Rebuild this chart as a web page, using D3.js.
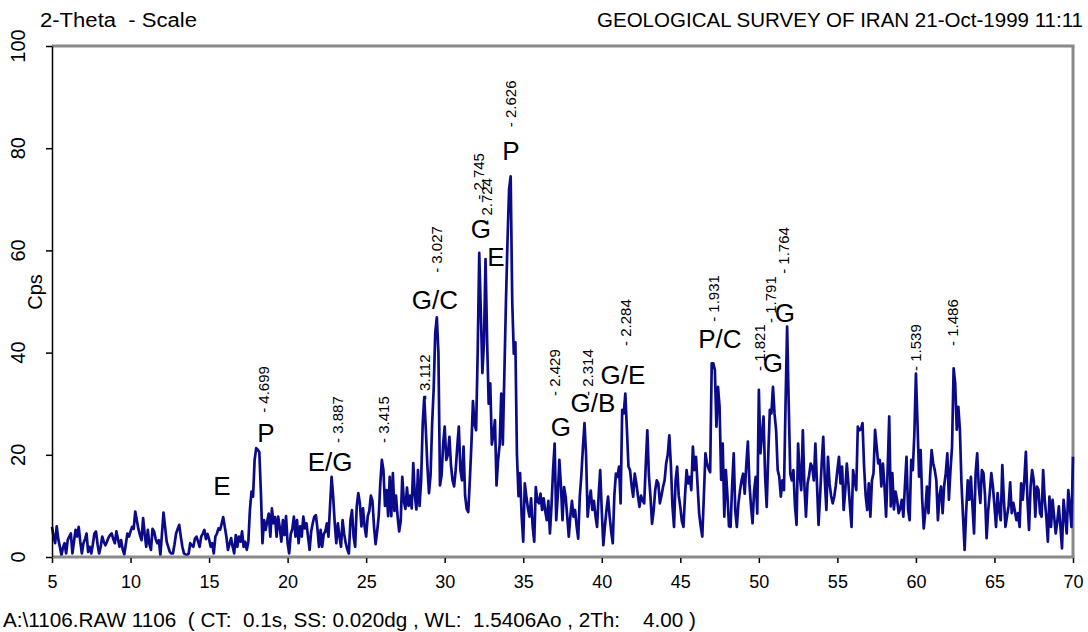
<!DOCTYPE html>
<html>
<head>
<meta charset="utf-8">
<script src="https://cdn.jsdelivr.net/npm/d3@7"></script>
<style>
  body { margin: 0; background: #fff; }
  svg { display: block; }
  text { font-family: Arial, "Liberation Sans", sans-serif; fill: #000; white-space: pre; }
</style>
</head>
<body>
<svg id="chart" width="1088" height="632"></svg>
<script>
// Scan grid: 2-theta start and step (degrees)
const scanStart = 5;
const scanStep = 0.1;

// Counts per second, one row per degree (5.0 ... 70.0)
const counts = [
  5.9, 4.0, 2.7, 6.0, 3.5, 2.0, 0.4, 1.8, 2.7, 0.7,
  3.3, 4.0, 4.6, 0.7, 3.0, 5.3, 4.0, 5.9, 3.0, 0.7,
  2.7, 3.5, 4.6, 1.0, 2.0, 0.7, 2.5, 4.6, 5.0, 2.5,
  0.7, 2.0, 4.0, 3.0, 2.3, 3.0, 3.8, 4.3, 4.6, 3.5,
  2.7, 5.0, 3.5, 2.0, 3.3, 1.5, 0.5, 2.5, 4.6, 4.0,
  5.0, 5.9, 5.5, 8.9, 7.2, 5.5, 4.3, 3.3, 7.6, 4.5,
  2.0, 5.3, 2.5, 1.4, 5.5, 5.0, 3.5, 2.7, 3.3, 0.4,
  4.5, 8.7, 5.9, 3.0, 2.0, 1.0, 0.7, 0.7, 2.5, 4.6,
  5.5, 6.3, 4.0, 2.0, 0.7, 0.5, 0.4, 0.7, 2.7, 2.3,
  2.0, 3.6, 4.0, 3.0, 2.0, 4.0, 4.6, 5.3, 3.5, 4.5,
  3.5, 2.0, 2.7, 0.7, 4.0, 4.6, 5.6, 5.3, 6.5, 7.8,
  5.9, 4.0, 1.4, 2.5, 3.7, 2.0, 0.7, 4.3, 2.0, 4.0,
  3.0, 5.0, 2.0, 3.0, 1.4, 3.0, 9.2, 12.8, 11.8, 19.0,
  21.3, 21.0, 20.5, 12.5, 2.7, 7.2, 5.3, 7.0, 8.5, 4.0,
  9.5, 6.6, 7.8, 4.0, 7.9, 5.8, 3.0, 7.2, 4.3, 8.0,
  2.7, 0.7, 4.5, 5.5, 7.9, 4.0, 7.2, 2.7, 6.0, 4.0,
  7.9, 5.6, 6.6, 4.0, 1.4, 5.0, 6.6, 7.9, 8.2, 5.5,
  2.0, 5.3, 2.0, 4.5, 5.0, 6.6, 4.0, 9.9, 15.7, 11.8,
  6.6, 2.7, 6.6, 4.0, 2.0, 7.2, 4.5, 2.7, 1.5, 0.7,
  7.2, 9.2, 4.0, 2.0, 9.9, 12.5, 10.5, 6.0, 9.5, 6.0,
  4.0, 8.0, 9.0, 12.0, 11.0, 6.0, 2.5, 5.0, 8.0, 14.4,
  19.0, 17.0, 10.0, 13.1, 8.0, 15.7, 8.0, 16.4, 9.0, 12.0,
  8.0, 5.0, 7.0, 15.7, 11.0, 9.4, 13.6, 10.0, 12.0, 9.5,
  18.4, 12.0, 9.3, 17.0, 10.0, 15.0, 26.0, 31.3, 24.8, 17.7,
  12.5, 16.0, 26.0, 33.0, 44.0, 46.9, 40.0, 14.0, 16.0, 22.0,
  25.5, 19.0, 20.0, 23.5, 18.0, 15.0, 13.8, 17.0, 21.6, 25.5,
  17.0, 15.0, 21.6, 12.0, 9.4, 8.8, 15.0, 22.0, 30.5, 26.0,
  24.8, 40.0, 59.5, 48.0, 36.0, 42.0, 58.3, 42.5, 30.0, 34.0,
  22.0, 24.0, 26.8, 14.0, 19.0, 22.0, 32.0, 22.0, 36.0, 50.0,
  62.0, 72.0, 74.5, 50.0, 39.8, 42.0, 20.0, 11.9, 16.4, 8.0,
  3.0, 14.4, 11.8, 9.5, 7.9, 11.5, 6.0, 3.0, 13.7, 11.0,
  10.5, 12.4, 9.2, 11.5, 9.0, 7.2, 11.0, 4.6, 10.0, 17.0,
  22.2, 7.2, 12.0, 19.0, 14.0, 7.2, 13.7, 11.8, 8.0, 4.0,
  8.0, 11.0, 7.9, 9.2, 6.0, 3.6, 11.8, 16.0, 21.5, 26.2,
  20.0, 7.9, 11.0, 13.0, 9.2, 11.0, 8.0, 5.9, 12.0, 17.0,
  9.0, 2.3, 6.0, 9.2, 11.8, 8.0, 5.0, 2.7, 12.0, 16.3,
  15.7, 17.7, 10.5, 28.8, 28.1, 32.0, 25.0, 17.7, 17.0, 14.0,
  11.8, 16.3, 14.4, 12.0, 9.8, 12.0, 11.0, 10.5, 18.0, 24.8,
  16.0, 11.8, 6.5, 9.0, 13.0, 15.0, 14.4, 10.5, 12.0, 13.7,
  15.0, 18.3, 20.0, 23.8, 18.0, 10.0, 5.9, 15.0, 17.7, 12.0,
  9.8, 7.0, 5.9, 12.0, 17.0, 14.4, 15.7, 13.1, 21.6, 17.0,
  19.6, 14.0, 8.5, 6.0, 4.0, 12.0, 20.3, 18.3, 17.3, 16.6,
  37.9, 37.9, 36.6, 25.5, 33.3, 29.4, 15.1, 22.2, 7.9, 17.0,
  12.0, 6.0, 5.9, 14.0, 20.3, 9.0, 5.9, 10.5, 13.0, 15.0,
  16.3, 12.4, 18.0, 22.6, 14.4, 10.0, 6.6, 13.0, 15.7, 8.5,
  32.7, 20.3, 24.0, 27.5, 15.7, 9.8, 20.0, 28.8, 28.1, 33.3,
  28.0, 24.8, 17.0, 15.7, 11.8, 15.0, 13.1, 30.0, 45.1, 30.1,
  16.3, 15.0, 17.0, 10.0, 6.3, 22.2, 16.0, 13.1, 24.8, 14.0,
  7.9, 14.4, 16.0, 18.3, 17.6, 15.0, 22.2, 14.4, 6.3, 12.0,
  18.3, 23.5, 15.0, 9.2, 19.6, 14.4, 12.0, 10.5, 11.8, 14.0,
  17.0, 19.6, 14.4, 17.7, 9.2, 13.0, 18.3, 14.4, 10.0, 5.9,
  17.0, 15.0, 13.1, 25.5, 24.8, 25.0, 26.2, 17.7, 12.0, 9.2,
  14.4, 7.9, 15.0, 16.4, 24.9, 21.6, 18.3, 19.0, 13.8, 18.3,
  13.8, 7.9, 17.0, 27.5, 9.9, 16.4, 9.3, 12.8, 11.2, 8.6,
  9.5, 11.2, 7.9, 14.0, 19.6, 9.3, 7.2, 19.0, 17.0, 24.0,
  35.9, 26.2, 15.7, 20.9, 11.2, 5.6, 9.0, 13.8, 8.6, 15.7,
  20.9, 18.3, 17.0, 15.0, 7.2, 12.0, 13.8, 8.6, 14.0, 16.4,
  20.3, 11.2, 17.0, 21.6, 36.9, 34.0, 24.9, 29.4, 24.9, 14.4,
  7.9, 1.4, 9.0, 15.0, 11.2, 15.7, 10.0, 4.6, 16.4, 20.3,
  13.8, 10.6, 17.0, 16.4, 12.0, 3.7, 9.0, 12.5, 16.4, 13.8,
  10.0, 5.9, 12.5, 9.0, 7.2, 18.0, 11.2, 5.9, 8.0, 10.0,
  14.6, 8.6, 10.6, 9.0, 7.2, 8.6, 5.9, 14.4, 11.2, 15.0,
  20.6, 11.2, 5.3, 13.8, 17.0, 15.0, 7.9, 13.8, 13.2, 8.6,
  7.9, 17.0, 11.2, 7.9, 3.0, 11.8, 5.9, 11.2, 7.9, 4.6,
  7.0, 9.9, 5.9, 1.7, 11.2, 7.9, 4.6, 13.1, 9.9, 5.9,
  19.6
];

// Axis ticks
const xTicks = [5, 10, 15, 20, 25, 30, 35, 40, 45, 50, 55, 60, 65, 70];
const yTicks = [0, 20, 40, 60, 80, 100];

// d-spacing markers (angstrom): text, 2-theta position, height of the marker (cps)
const dSpacings = ["4.699", "3.887", "3.415", "3.112", "3.027", "2.745", "2.724", "2.626",
                   "2.429", "2.314", "2.284", "1.931", "1.821", "1.791", "1.764", "1.539", "1.486"];
const dAngles   = [18.49, 23.20, 26.13, 28.74, 29.51, 32.18, 32.69, 34.22,
                   37.02, 39.12, 41.54, 47.14, 50.07, 50.77, 51.60, 60.00, 62.35];
const dHeights  = [28.8, 22.9, 22.9, 31.3, 56.2, 70.5, 65.6, 84.7,
                   32.1, 32.1, 41.9, 46.6, 37.0, 46.4, 56.0, 37.0, 41.9];

// Phase identifications: text, 2-theta centre, height of centre (cps)
const phaseNames   = ["E", "P", "E/G", "G/C", "G", "E", "P", "G", "G/B", "G/E", "P/C", "G", "G"];
const phaseAngles  = [15.82, 18.62, 22.70, 29.38, 32.31, 33.26, 34.22, 37.40, 39.44, 41.35, 47.52, 50.89, 51.66];
const phaseHeights = [13.9, 24.3, 18.6, 50.3, 64.2, 58.7, 79.6, 25.6, 30.3, 35.6, 42.7, 38.0, 47.9];

const svg = d3.select("#chart");
const plot = { left: 52, right: 1073, top: 46, bottom: 557 };

const x = d3.scaleLinear().domain([5, 70]).range([plot.left, plot.right]);
const y = d3.scaleLinear().domain([0, 100]).range([plot.bottom, plot.top]);

// Header lines
svg.append("text").attr("x", 40).attr("y", 27).attr("font-size", 20)
  .attr("textLength", 157).attr("lengthAdjust", "spacingAndGlyphs")
  .text("2-Theta  - Scale");
svg.append("text").attr("x", 597).attr("y", 27).attr("font-size", 20)
  .attr("textLength", 486).attr("lengthAdjust", "spacingAndGlyphs")
  .text("GEOLOGICAL SURVEY OF IRAN 21-Oct-1999 11:11");

// Frame: top and right edges in grey
svg.append("line").attr("x1", plot.left).attr("x2", plot.right + 1.5)
  .attr("y1", plot.top).attr("y2", plot.top)
  .attr("stroke", "#8a8a8a").attr("stroke-width", 3);
svg.append("line").attr("x1", plot.right).attr("x2", plot.right)
  .attr("y1", plot.top).attr("y2", plot.bottom)
  .attr("stroke", "#8a8a8a").attr("stroke-width", 3);

// Diffraction trace
const line = d3.line()
  .x((d, i) => x(scanStart + i * scanStep))
  .y(d => y(d));
svg.append("path").datum(counts)
  .attr("d", line)
  .attr("fill", "none")
  .attr("stroke", "#0b0b8a")
  .attr("stroke-width", 2.7)
  .attr("stroke-linejoin", "round");

// Bottom axis
const xAxis = d3.axisBottom(x).tickValues(xTicks).tickSize(6).tickSizeOuter(0).tickFormat(d3.format("d"));
const gx = svg.append("g").attr("transform", `translate(0,${plot.bottom})`).call(xAxis);
gx.select(".domain").attr("stroke", "#8a8a8a").attr("stroke-width", 3)
  .attr("d", `M${plot.left},0H${plot.right + 1.5}`);
gx.selectAll(".tick line").attr("stroke", "#000").attr("stroke-width", 1.5).attr("y1", 1);
gx.selectAll(".tick text").attr("font-size", 18).attr("font-family", "Arial, 'Liberation Sans', sans-serif")
  .attr("y", 31).attr("dy", 0).attr("fill", "#000");

// Left axis, labels written upright along the axis
const yAxis = d3.axisLeft(y).tickValues(yTicks).tickSize(6).tickSizeOuter(0).tickFormat("");
const gy = svg.append("g").attr("transform", `translate(${plot.left},0)`).call(yAxis);
gy.select(".domain").attr("stroke", "#000").attr("stroke-width", 1.5);
gy.selectAll(".tick line").attr("stroke", "#000").attr("stroke-width", 1.5);
svg.append("g").selectAll("text").data(yTicks).join("text")
  .attr("transform", d => `translate(25,${y(d)}) rotate(-90)`)
  .attr("text-anchor", "middle").attr("font-size", 20)
  .text(d => d);
svg.append("text").attr("transform", `translate(42,292) rotate(-90)`)
  .attr("text-anchor", "middle").attr("font-size", 20).text("Cps");

// d-spacing markers
svg.append("g").selectAll("text").data(dSpacings).join("text")
  .attr("transform", (d, i) => `translate(${x(dAngles[i]) + 5},${y(dHeights[i]) + 3}) rotate(-90)`)
  .attr("font-size", 15)
  .text(d => "- " + d);

// Phase letters
svg.append("g").selectAll("text").data(phaseNames).join("text")
  .attr("x", (d, i) => x(phaseAngles[i]))
  .attr("y", (d, i) => y(phaseHeights[i]))
  .attr("dy", "0.36em")
  .attr("text-anchor", "middle").attr("font-size", 26)
  .text(d => d);

// Footer with scan parameters
svg.append("text").attr("x", 3).attr("y", 627).attr("font-size", 20)
  .attr("textLength", 693).attr("lengthAdjust", "spacingAndGlyphs")
  .text("A:\\1106.RAW 1106  ( CT:  0.1s, SS: 0.020dg , WL:  1.5406Ao , 2Th:    4.00 )");
</script>
</body>
</html>
